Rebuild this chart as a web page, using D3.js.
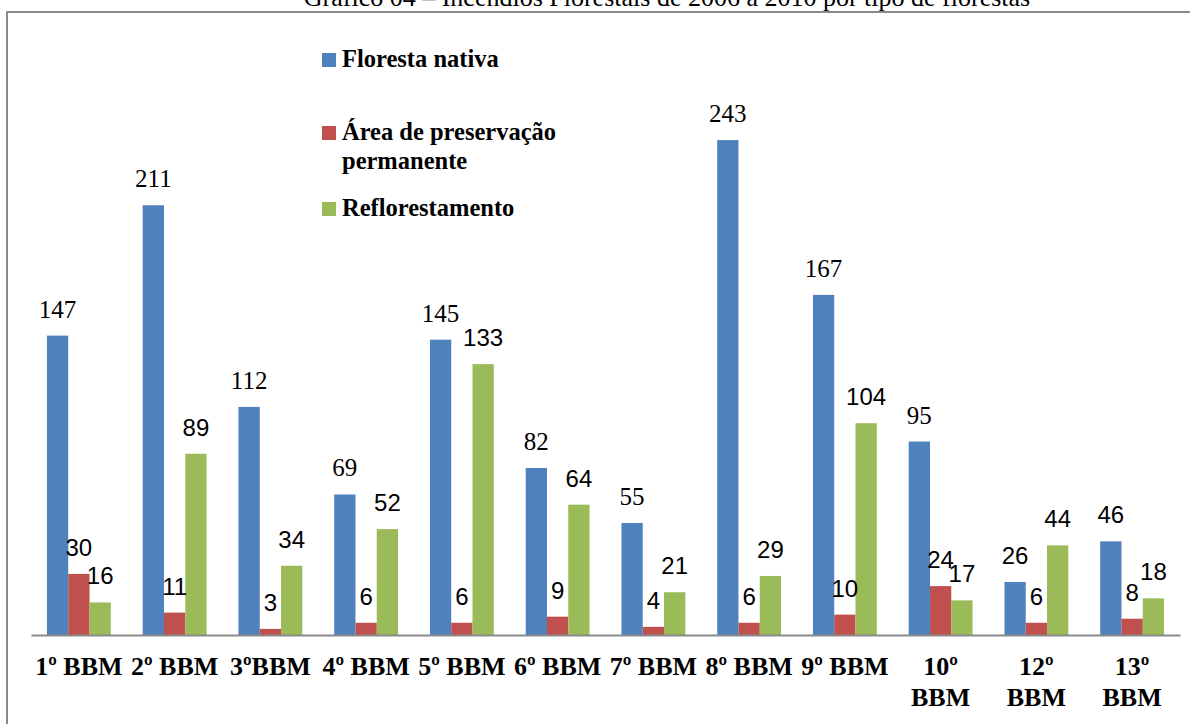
<!DOCTYPE html>
<html>
<head>
<meta charset="utf-8">
<script src="https://cdn.jsdelivr.net/npm/d3@7"></script>
<style>
  html, body { margin: 0; padding: 0; background: #fff; }
  svg { display: block; }
</style>
</head>
<body>
<svg id="chart" width="1190" height="724"></svg>
<script>
const title = "Gráfico 04 – Incêndios Florestais de 2006 a 2010 por tipo de florestas";
const categories = ["1º BBM", "2º BBM", "3ºBBM", "4º BBM", "5º BBM", "6º BBM", "7º BBM", "8º BBM", "9º BBM", "10º BBM", "12º BBM", "13º BBM"];
const categoryLines = [["1º BBM"], ["2º BBM"], ["3ºBBM"], ["4º BBM"], ["5º BBM"], ["6º BBM"], ["7º BBM"], ["8º BBM"], ["9º BBM"], ["10º", "BBM"], ["12º", "BBM"], ["13º", "BBM"]];
const seriesNames = ["Floresta nativa", "Área de preservação permanente", "Reflorestamento"];
const legendLines = [["Floresta nativa"], ["Área de preservação", "permanente"], ["Reflorestamento"]];
const florestaNativa = [147, 211, 112, 69, 145, 82, 55, 243, 167, 95, 26, 46];
const areaPreservacao = [30, 11, 3, 6, 6, 9, 4, 6, 10, 24, 6, 8];
const reflorestamento = [16, 89, 34, 52, 133, 64, 21, 29, 104, 17, 44, 18];

const colors = ["#4F81BD", "#C0504D", "#9BBB59"];
const serif = "'Liberation Serif', 'Times New Roman', serif";
const sans = "'Liberation Sans', Arial, sans-serif";

const seriesValues = [florestaNativa, areaPreservacao, reflorestamento];
const data = categories.map((c, i) => ({
  cat: c,
  values: seriesNames.map((s, j) => ({ series: s, j, value: seriesValues[j][i], cat: c }))
}));

const svg = d3.select("#chart");

// Title (partially clipped at top, as in the reference)
svg.append("text")
  .attr("x", 667).attr("y", 6)
  .attr("text-anchor", "middle")
  .attr("font-family", serif).attr("font-size", 26)
  .attr("fill", "#000")
  .text(title);

// Frame
svg.append("path")
  .attr("d", "M7,730 L7,12 L1200,12")
  .attr("fill", "none").attr("stroke", "#8a8a8a").attr("stroke-width", 2);

const x0 = d3.scaleBand().domain(categories).range([31, 1180]).paddingInner(1/3).paddingOuter(1/6);
const x1 = d3.scaleBand().domain(seriesNames).range([0, x0.bandwidth()]);
const y = d3.scaleLinear().domain([0, 300]).range([635, 24]);

const groups = svg.append("g").selectAll("g").data(data).join("g")
  .attr("transform", d => `translate(${x0(d.cat)},0)`);

groups.selectAll("rect").data(d => d.values).join("rect")
  .attr("x", d => x1(d.series))
  .attr("y", d => y(d.value))
  .attr("width", x1.bandwidth())
  .attr("height", d => y(0) - y(d.value))
  .attr("fill", d => colors[d.j]);

// Data labels: blue mostly serif, others sans
const sansBlue = new Set(["12º BBM", "13º BBM"]);
const isSerif = d => d.j === 0 && !sansBlue.has(d.cat);
groups.selectAll("text.val").data(d => d.values).join("text")
  .attr("class", "val")
  .attr("x", d => x1(d.series) + x1.bandwidth() / 2)
  .attr("y", d => y(d.value) - 18)
  .attr("text-anchor", "middle")
  .attr("font-family", d => isSerif(d) ? serif : sans)
  .attr("font-size", d => isSerif(d) ? 25 : 24)
  .attr("fill", "#000")
  .text(d => d.value);

// Axis
const xAxis = d3.axisBottom(x0).tickSize(0).tickFormat("");
const axisG = svg.append("g").attr("transform", "translate(0,635)").call(xAxis);
axisG.select(".domain").attr("stroke", "#8a8a8a").attr("stroke-width", 2);

// Category labels
const catLabels = svg.append("g").selectAll("text").data(categories).join("text")
  .attr("x", d => x0(d) + x0.bandwidth() / 2)
  .attr("y", 675)
  .attr("text-anchor", "middle")
  .attr("font-family", serif).attr("font-size", 26).attr("font-weight", "bold")
  .attr("fill", "#000");
catLabels.each(function(d, i) {
  const t = d3.select(this);
  categoryLines[i].forEach((line, k) => {
    t.append("tspan").attr("x", x0(d) + x0.bandwidth() / 2).attr("dy", k === 0 ? 0 : 31).text(line);
  });
});

// Legend
const legendY = [67, 140, 216];
const legend = svg.append("g").selectAll("g").data(seriesNames).join("g");
legend.append("rect")
  .attr("x", 322).attr("y", (d, i) => legendY[i] - 14)
  .attr("width", 14).attr("height", 14)
  .attr("fill", (d, i) => colors[i]);
legend.append("text")
  .attr("x", 342).attr("y", (d, i) => legendY[i])
  .attr("font-family", serif).attr("font-size", 24.5).attr("font-weight", "bold")
  .attr("fill", "#000")
  .each(function(d, i) {
    const t = d3.select(this);
    legendLines[i].forEach((line, k) => {
      t.append("tspan").attr("x", 342).attr("dy", k === 0 ? 0 : 29).text(line);
    });
  });
</script>
</body>
</html>
